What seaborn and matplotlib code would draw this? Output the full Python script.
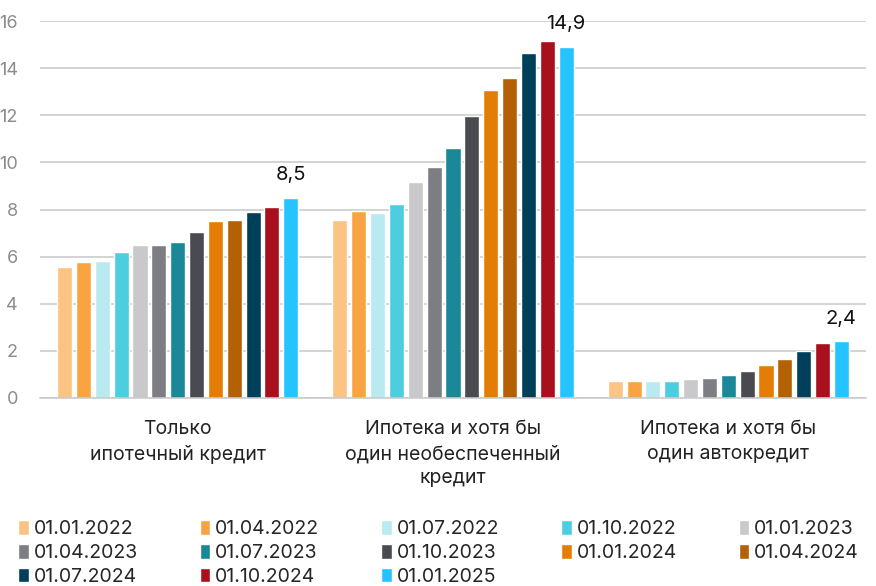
import matplotlib
matplotlib.use("Agg")
import matplotlib.pyplot as plt
import seaborn as sns
import pandas as pd

categories = ["Только\nипотечный кредит",
              "Ипотека и хотя бы\nодин необеспеченный\nкредит",
              "Ипотека и хотя бы\nодин автокредит"]
dates = ["01.01.2022", "01.04.2022", "01.07.2022", "01.10.2022", "01.01.2023",
         "01.04.2023", "01.07.2023", "01.10.2023", "01.01.2024", "01.04.2024",
         "01.07.2024", "01.10.2024", "01.01.2025"]
only_mortgage = [5.55, 5.76, 5.83, 6.18, 6.48, 6.49, 6.63, 7.06, 7.51, 7.54, 7.88, 8.09, 8.5]
mortgage_unsecured = [7.56, 7.92, 7.86, 8.24, 9.17, 9.79, 10.63, 11.97, 13.06, 13.58, 14.65, 15.15, 14.9]
mortgage_auto = [0.71, 0.74, 0.71, 0.74, 0.79, 0.85, 0.96, 1.16, 1.39, 1.65, 2.0, 2.35, 2.4]
labels_last = ["8,5", "14,9", "2,4"]
colors = ["#FBC384", "#F9A443", "#B8EAF0", "#4DCDE0", "#C9C9CB", "#7D7E83",
          "#1A8896", "#4A4B50", "#E37D06", "#B46106", "#003F5A", "#A8101E", "#25C3FF"]

rows = []
for cat, vals in zip(categories, [only_mortgage, mortgage_unsecured, mortgage_auto]):
    for d, v in zip(dates, vals):
        rows.append({"cat": cat, "date": d, "val": v})
df = pd.DataFrame(rows)

sns.set_theme(style="white")
plt.rcParams["font.family"] = ["Inter", "DejaVu Sans"]

fig = plt.figure(figsize=(8.76, 5.86), dpi=100)
ax = fig.add_axes([40/876, 1-398/586, 826/876, (398-21)/586])

sns.barplot(data=df, x="cat", y="val", hue="date", hue_order=dates,
            palette=colors, width=0.89, gap=0.2, ax=ax, saturation=1,
            order=categories)

ax.set_ylim(0, 16)
ax.set_xlim(-0.5, 2.5)
ax.set_yticks(range(0, 17, 2))
ax.yaxis.grid(True, color="#C8C8C8", linewidth=1.1)
ax.set_axisbelow(True)
for s in ["top", "right", "left"]:
    ax.spines[s].set_visible(False)
ax.spines["bottom"].set_color("#C8C8C8")
ax.spines["bottom"].set_linewidth(1.1)
ax.set_xlabel("")
ax.set_ylabel("")
ax.tick_params(axis="y", length=0, pad=16, labelsize=13, labelcolor="#8C8C8C")
ax.tick_params(axis="x", length=0, pad=16, labelsize=14, labelcolor="#222222")
for t in ax.get_xticklabels():
    t.set_linespacing(1.45)

# annotate last bar of each group
last_container = ax.containers[-1]
for bar, lab in zip(last_container, labels_last):
    x = bar.get_x() + bar.get_width() / 2
    ax.annotate(lab, (x, bar.get_height()), xytext=(0, 10), textcoords="offset points",
                ha="center", va="bottom", fontsize=14.5, color="#111111", annotation_clip=False)

handles, labs = ax.get_legend_handles_labels()
ax.get_legend().remove()
order = [0, 5, 10, 1, 6, 11, 2, 7, 12, 3, 8, 4, 9]
fig.legend([handles[i] for i in order], [labs[i] for i in order], ncol=5,
           loc="lower left", bbox_to_anchor=(18/876, 0/586), frameon=False,
           fontsize=14, handlelength=0.55, handleheight=0.75, handletextpad=0.25,
           columnspacing=3.18, labelspacing=0.3, borderaxespad=0, borderpad=0)

fig.savefig("out.png", dpi=100)
